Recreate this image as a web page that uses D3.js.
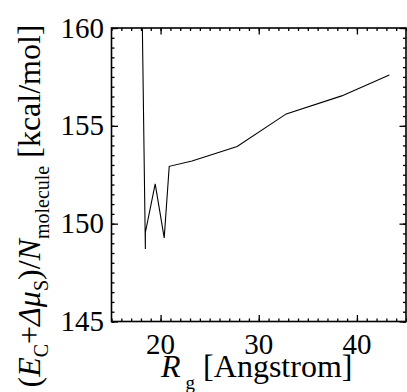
<!DOCTYPE html>
<html>
<head>
<meta charset="utf-8">
<script src="https://cdn.jsdelivr.net/npm/d3@7"></script>
</head>
<body style="margin:0">
<script>
// values
const rg = [18.05, 18.45, 18.45, 19.45, 20.37, 20.88, 23.2, 27.8, 32.8, 38.45, 43.3];
const energy = [163.5, 148.7, 149.55, 152.03, 149.27, 152.93, 153.2, 153.94, 155.61, 156.53, 157.6];
const xTicks = [20, 30, 40];
const yTicks = [145, 150, 155, 160];

const width = 407, height = 392;
const plotL = 111.5, plotR = 406, plotT = 28, plotB = 321.5;

const svg = d3.select("body").append("svg")
  .attr("width", width)
  .attr("height", height);

const x = d3.scaleLinear().domain([15, 45]).range([plotL, plotR]);
const y = d3.scaleLinear().domain([145, 160]).range([plotB, plotT]);

const xMinor = d3.range(15, 46, 1);
const yMinor = d3.range(145, 160.01, 0.5);

// ticks inside the frame on all four sides, labels drawn separately
function drawAxis(axisFn, scale, pos, major, minor) {
  let g = svg.append("g").attr("transform", pos);
  g.call(axisFn(scale).tickValues(minor).tickSize(-3).tickFormat(""));
  let g2 = svg.append("g").attr("transform", pos);
  g2.call(axisFn(scale).tickValues(major).tickSize(-6.5).tickFormat(""));
  [g, g2].forEach(s => {
    s.select(".domain").remove();
    s.selectAll("text").remove();
    s.selectAll("line").attr("stroke", "#000").attr("stroke-width", 1.3);
  });
}

drawAxis(d3.axisBottom, x, `translate(0,${plotB})`, xTicks, xMinor);
drawAxis(d3.axisTop, x, `translate(0,${plotT})`, xTicks, xMinor);
drawAxis(d3.axisLeft, y, `translate(${plotL},0)`, yTicks, yMinor);
drawAxis(d3.axisRight, y, `translate(${plotR},0)`, yTicks, yMinor);

const labels = svg.append("g");

labels.selectAll("text.xlab")
  .data(xTicks)
  .join("text")
  .attr("class", "xlab")
  .attr("x", d => x(d))
  .attr("y", plotB + 32)
  .attr("text-anchor", "middle")
  .attr("font-family", "'Liberation Serif'")
  .attr("font-size", 29)
  .text(d => d);

labels.selectAll("text.ylab")
  .data(yTicks)
  .join("text")
  .attr("class", "ylab")
  .attr("x", plotL - 7.5)
  .attr("y", d => y(d) + 9.5)
  .attr("text-anchor", "end")
  .attr("font-family", "'Liberation Serif'")
  .attr("font-size", 29)
  .text(d => d);

// frame
svg.append("rect")
  .attr("x", plotL).attr("y", plotT)
  .attr("width", plotR - plotL).attr("height", plotB - plotT)
  .attr("fill", "none").attr("stroke", "#000").attr("stroke-width", 1.6);

svg.append("clipPath").attr("id", "plot-clip")
  .append("rect")
  .attr("x", plotL).attr("y", plotT)
  .attr("width", plotR - plotL).attr("height", plotB - plotT);

const line = d3.line()
  .x((d, i) => x(rg[i]))
  .y(d => y(d));

svg.append("path")
  .datum(energy)
  .attr("clip-path", "url(#plot-clip)")
  .attr("fill", "none")
  .attr("stroke", "#000")
  .attr("stroke-width", 1.1)
  .attr("d", line);

// x title
let xt = labels.append("text")
  .attr("x", (plotL + plotR) / 2 - 2)
  .attr("y", 376.5)
  .attr("text-anchor", "middle")
  .attr("font-family", "'Liberation Serif'")
  .attr("font-size", 32);
xt.append("tspan").attr("font-style", "italic").text("R");
xt.append("tspan").attr("font-size", 19).attr("dy", 12).attr("dx", 5).text("g");
xt.append("tspan").attr("dy", -12).text(" [Angstrom]");

// y title
let yt = labels.append("text")
  .attr("transform", "translate(40,206) rotate(-90)")
  .attr("text-anchor", "middle")
  .attr("font-family", "'Liberation Serif'")
  .attr("font-size", 32);
yt.append("tspan").text("(");
yt.append("tspan").attr("font-style", "italic").text("E");
yt.append("tspan").attr("font-size", 20).attr("dy", 8).text("C");
yt.append("tspan").attr("dy", -8).text("+");
yt.append("tspan").attr("font-style", "italic").text("\u0394\u03bc");
yt.append("tspan").attr("font-size", 20).attr("dy", 8).text("S");
yt.append("tspan").attr("dy", -8).text(")/");
yt.append("tspan").attr("font-style", "italic").text("N");
yt.append("tspan").attr("font-size", 20).attr("dy", 9).text("molecule");
yt.append("tspan").attr("dy", -9).text(" [kcal/mol]");
</script>
</body>
</html>
